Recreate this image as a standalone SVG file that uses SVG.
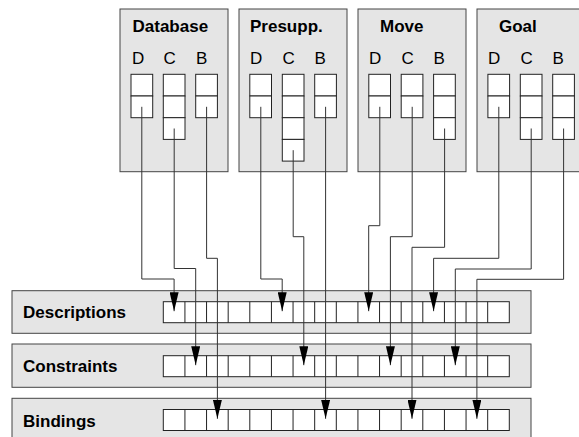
<svg xmlns="http://www.w3.org/2000/svg" width="579" height="437" viewBox="0 0 579 437">
<defs>
<style>
.box{fill:#e5e5e5;stroke:#444;stroke-width:1}
.cell{fill:#fff;stroke:#222;stroke-width:1}
.title{font-family:"Liberation Sans",Arial,sans-serif;font-weight:bold;font-size:17px;fill:#000}
.col{font-family:"Liberation Sans",Arial,sans-serif;font-size:17px;fill:#000}
.con{fill:none;stroke:#333;stroke-width:1}
</style>
<marker id="ah" markerUnits="userSpaceOnUse" markerWidth="19" markerHeight="9" refX="19" refY="4.5" orient="auto" viewBox="0 0 19 9">
<path d="M0,0 L19,4.5 L0,9 Z" fill="#000"/>
</marker>
<rect id="c" class="cell" width="21.7" height="21.7"/>
<g id="bar16">
<rect class="cell" x="0" y="0" width="346" height="21"/>
<path d="M21.625,0v21M43.25,0v21M64.875,0v21M86.5,0v21M108.125,0v21M129.75,0v21M151.375,0v21M173,0v21M194.625,0v21M216.25,0v21M237.875,0v21M259.5,0v21M281.125,0v21M302.75,0v21M324.375,0v21" stroke="#222" stroke-width="1"/>
</g>
</defs>
<rect width="579" height="437" fill="#fff"/>

<g id="database">
<rect class="box" x="120" y="9" width="108" height="162.7"/>
<text class="title" x="132.5" y="31.5">Database</text>
<text class="col" x="132" y="64">D</text><text class="col" x="163.5" y="64">C</text><text class="col" x="196" y="64">B</text>
<use href="#c" x="131" y="74.3"/><use href="#c" x="131" y="96"/>
<use href="#c" x="163.3" y="74.3"/><use href="#c" x="163.3" y="96"/><use href="#c" x="163.3" y="117.7"/>
<use href="#c" x="195.7" y="74.3"/><use href="#c" x="195.7" y="96"/>
</g>

<g id="presupp">
<rect class="box" x="239" y="9" width="108" height="162.7"/>
<text class="title" x="250" y="31.5">Presupp.</text>
<text class="col" x="250" y="64">D</text><text class="col" x="282.5" y="64">C</text><text class="col" x="314.5" y="64">B</text>
<use href="#c" x="249.8" y="74.3"/><use href="#c" x="249.8" y="96"/>
<use href="#c" x="282.3" y="74.3"/><use href="#c" x="282.3" y="96"/><use href="#c" x="282.3" y="117.7"/><use href="#c" x="282.3" y="139.4"/>
<use href="#c" x="314.7" y="74.3"/><use href="#c" x="314.7" y="96"/>
</g>

<g id="move">
<rect class="box" x="358" y="9" width="108" height="162.7"/>
<text class="title" x="380" y="31.5">Move</text>
<text class="col" x="369" y="64">D</text><text class="col" x="401.5" y="64">C</text><text class="col" x="433.5" y="64">B</text>
<use href="#c" x="368.8" y="74.3"/><use href="#c" x="368.8" y="96"/>
<use href="#c" x="401.2" y="74.3"/><use href="#c" x="401.2" y="96"/>
<use href="#c" x="433.6" y="74.3"/><use href="#c" x="433.6" y="96"/><use href="#c" x="433.6" y="117.7"/>
</g>

<g id="goal">
<rect class="box" x="477" y="9" width="108" height="162.7"/>
<text class="title" x="499" y="31.5">Goal</text>
<text class="col" x="488" y="64">D</text><text class="col" x="520.5" y="64">C</text><text class="col" x="552.5" y="64">B</text>
<use href="#c" x="487.9" y="74.3"/><use href="#c" x="487.9" y="96"/>
<use href="#c" x="520.3" y="74.3"/><use href="#c" x="520.3" y="96"/><use href="#c" x="520.3" y="117.7"/>
<use href="#c" x="552.7" y="74.3"/><use href="#c" x="552.7" y="96"/><use href="#c" x="552.7" y="117.7"/>
</g>

<g id="descriptions">
<rect class="box" x="12" y="290.7" width="519" height="42.6"/>
<text class="title" x="23" y="317.5">Descriptions</text>
<use href="#bar16" x="163.3" y="301.7"/>
</g>
<g id="constraints">
<rect class="box" x="12" y="344" width="519" height="43.3"/>
<text class="title" x="23" y="371.5">Constraints</text>
<use href="#bar16" x="163.3" y="355.7"/>
</g>
<g id="bindings">
<rect class="box" x="12" y="398.3" width="519" height="45"/>
<text class="title" x="23" y="426.5">Bindings</text>
<use href="#bar16" x="163.3" y="409.5"/>
</g>

<g id="connectors">
<path class="con" marker-end="url(#ah)" d="M141.8,106.8V279H174.1V311.2"/>
<path class="con" marker-end="url(#ah)" d="M174.2,128.5V268.5H195.7V365.2"/>
<path class="con" marker-end="url(#ah)" d="M206.6,106.8V258.3H217.4V418.8"/>
<path class="con" marker-end="url(#ah)" d="M260.8,106.8V279H282.2V311.2"/>
<path class="con" marker-end="url(#ah)" d="M293.2,150.2V236.7H303.8V365.2"/>
<path class="con" marker-end="url(#ah)" d="M325.6,106.8V418.8"/>
<path class="con" marker-end="url(#ah)" d="M379.8,106.8V225.7H368.7V311.2"/>
<path class="con" marker-end="url(#ah)" d="M412.2,106.8V236.7H390.4V365.2"/>
<path class="con" marker-end="url(#ah)" d="M444.6,128.5V247.3H412V418.8"/>
<path class="con" marker-end="url(#ah)" d="M498.8,106.8V258.3H433.6V311.2"/>
<path class="con" marker-end="url(#ah)" d="M531.2,128.5V269H455.3V365.2"/>
<path class="con" marker-end="url(#ah)" d="M563.6,128.5V279.3H476.9V418.8"/>
</g>
</svg>
